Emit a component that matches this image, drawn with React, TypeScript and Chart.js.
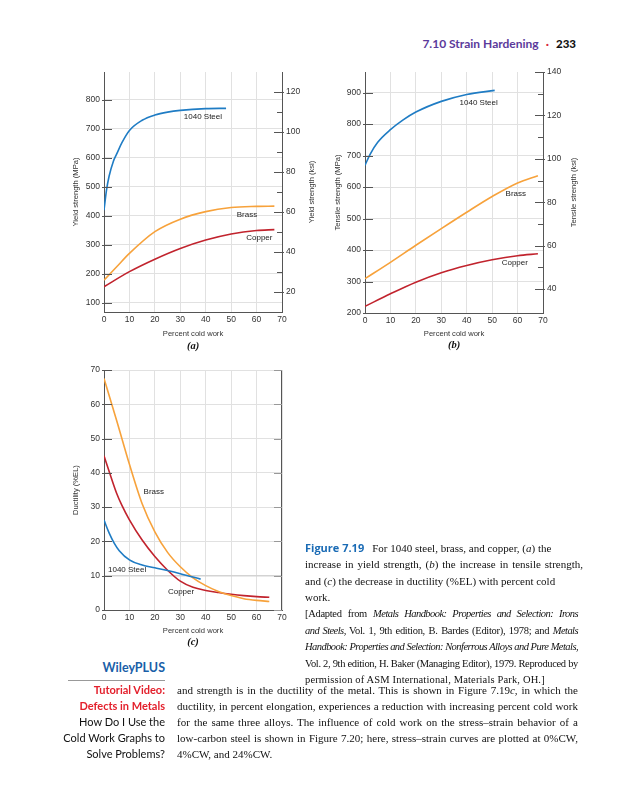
import React, { useEffect, useRef } from 'react';
import { Chart, registerables } from 'chart.js';

Chart.register(...registerables);

// ---------- data ----------
const KSI_TO_MPA = 6.894757;

const coldWorkTicks = [0, 10, 20, 30, 40, 50, 60, 70];

// (a) yield strength
const yieldMpaTicks = [100, 200, 300, 400, 500, 600, 700, 800];
const yieldKsiTicks = [20, 40, 60, 80, 100, 120];
const yieldKsiMinor = [30, 50, 70, 90, 110];
const yieldSteelCW = [0, 1, 2, 3.7, 5, 7, 10, 15, 20, 25, 30, 40, 48];
const yieldSteel = [420, 490, 537, 589, 614, 652, 695, 730, 748, 758, 764, 770, 771];
const yieldBrassCW = [0, 5, 10, 20, 30, 40, 50, 60, 67];
const yieldBrass = [179, 225, 271, 346, 389, 415, 429, 433, 434];
const yieldCopperCW = [0, 10, 20, 30, 40, 50, 60, 67];
const yieldCopper = [156, 208, 251, 288, 317, 338, 350, 353];

// (b) tensile strength
const tensileMpaTicks = [200, 300, 400, 500, 600, 700, 800, 900];
const tensileKsiTicks = [40, 60, 80, 100, 120, 140];
const tensileKsiMinor = [50, 70, 90, 110, 130];
const tensileSteelCW = [0, 2, 5, 10, 15, 20, 30, 40, 51];
const tensileSteel = [669, 704, 742, 782, 813, 838, 872, 894, 907];
const tensileBrassCW = [0, 10, 20, 30, 40, 50, 60, 68];
const tensileBrass = [309, 361, 415, 468, 520, 570, 613, 636];
const tensileCopperCW = [0, 10, 20, 30, 40, 50, 60, 68];
const tensileCopper = [221, 261, 298, 328, 351, 369, 382, 388];

// (c) ductility
const ductilityTicks = [0, 10, 20, 30, 40, 50, 60, 70];
const ductBrassCW = [0, 5, 10, 15, 20, 25, 30, 35, 40, 45, 50, 55, 60, 65];
const ductBrass = [67.5, 55.2, 42.5, 31, 22.8, 16.8, 12.6, 9.4, 7.1, 5.4, 4.2, 3.3, 2.8, 2.5];
const ductCopperCW = [0, 2, 5, 7, 10, 15, 20, 25, 30, 35, 40, 45, 50, 55, 60, 65];
const ductCopper = [45, 40.5, 34, 30.6, 26.3, 20.4, 15.6, 11.6, 8.4, 6.6, 5.7, 5.1, 4.6, 4.2, 3.9, 3.7];
const ductSteelCW = [0, 2, 4, 6, 10, 15, 20, 25, 30, 38];
const ductSteel = [26.2, 22.5, 19.5, 17.3, 14.6, 13.1, 12.3, 11.5, 10.6, 9];

// ---------- styles ----------
const STEEL = '#1f7cc4';
const BRASS = '#f7a23b';
const COPPER = '#c1232d';
const AXIS = '#555555';
const GRID = '#e1e1e1';
const TXT = '#333333';
const SANS = '"Liberation Sans", Arial, sans-serif';
const SERIF = '"Liberation Serif", "Times New Roman", serif';

const pts = (xs: number[], ys: number[]) => xs.map((x, i) => ({ x, y: ys[i] }));

const series = (label: string, xs: number[], ys: number[], color: string) => ({
  label,
  data: pts(xs, ys),
  borderColor: color,
  backgroundColor: color,
  borderWidth: 1.6,
  pointRadius: 0,
  fill: false,
  cubicInterpolationMode: 'monotone' as const,
  yAxisID: 'y',
});

const extrasPlugin = {
  id: 'pageExtras',
  afterDraw(chart: any) {
    const o = chart.options.plugins.pageExtras;
    if (!o) return;
    const ctx = chart.ctx as CanvasRenderingContext2D;
    const a = chart.chartArea;
    ctx.save();
    if (o.rightBorder) {
      ctx.strokeStyle = AXIS;
      ctx.lineWidth = 1;
      ctx.beginPath();
      ctx.moveTo(a.right - 0.5, a.top);
      ctx.lineTo(a.right - 0.5, a.bottom);
      ctx.stroke();
    }
    for (const t of o.ticks) {
      const s = chart.scales[t.scale];
      ctx.strokeStyle = t.color || AXIS;
      ctx.lineWidth = 1;
      for (const v of t.values) {
        const p = Math.round(s.getPixelForValue(v)) + 0.5;
        ctx.beginPath();
        if (t.side === 'left') {
          ctx.moveTo(a.left - t.out, p);
          ctx.lineTo(a.left + t.len, p);
        } else {
          ctx.moveTo(a.right + t.out, p);
          ctx.lineTo(a.right - t.len, p);
        }
        ctx.stroke();
      }
    }
    ctx.fillStyle = '#222';
    ctx.font = `8px ${SANS}`;
    ctx.textAlign = 'center';
    ctx.textBaseline = 'middle';
    for (const l of o.labels) {
      const x = chart.scales.x.getPixelForValue(l.x);
      const y = chart.scales.y.getPixelForValue(l.y);
      ctx.fillText(l.text, x, y);
    }
    const cx = (a.left + a.right) / 2;
    const cy = (a.top + a.bottom) / 2;
    ctx.fillStyle = TXT;
    ctx.font = `7.6px ${SANS}`;
    ctx.fillText(o.xTitle, cx, a.bottom + o.off.x);
    const rot = (text: string, x: number) => {
      ctx.save();
      ctx.translate(x, cy);
      ctx.rotate(-Math.PI / 2);
      ctx.fillText(text, 0, 0);
      ctx.restore();
    };
    rot(o.leftTitle, a.left + o.off.left);
    if (o.rightTitle) rot(o.rightTitle, a.right + o.off.right);
    ctx.fillStyle = '#111';
    ctx.font = `bold italic 10.5px ${SERIF}`;
    ctx.fillText(o.panel, cx, a.bottom + o.off.panel);
    ctx.restore();
  },
};

const fixedTicks = (vals: number[]) => (s: any) => {
  s.ticks = vals.map((v) => ({ value: v }));
};

const tickFont = { family: SANS, size: 8.5 };

type PanelSpec = {
  datasets: any[];
  yMin: number;
  yMax: number;
  yTicks: number[];
  y1?: { min: number; max: number; ticks: number[] };
  pad: { top: number; right: number };
  leftW: number;
  rightW: number;
  xH: number;
  gridColor?: (ctx: any) => string;
  gridWidth?: (ctx: any) => number;
  extras: any;
};

function buildConfig(p: PanelSpec): any {
  const scales: any = {
    x: {
      type: 'linear',
      min: 0,
      max: 70,
      afterBuildTicks: fixedTicks(coldWorkTicks),
      afterFit: (s: any) => {
        s.height = p.xH;
      },
      ticks: { font: tickFont, color: TXT, padding: 3, maxRotation: 0, autoSkip: false },
      grid: { color: GRID, lineWidth: 1, drawTicks: false },
      border: { color: AXIS, width: 1 },
    },
    y: {
      type: 'linear',
      position: 'left',
      min: p.yMin,
      max: p.yMax,
      afterBuildTicks: fixedTicks(p.yTicks),
      afterFit: (s: any) => {
        s.width = p.leftW;
      },
      ticks: { font: tickFont, color: TXT, padding: 4, autoSkip: false },
      grid: {
        color: p.gridColor || GRID,
        lineWidth: p.gridWidth || 1,
        drawTicks: false,
      },
      border: { color: AXIS, width: 1 },
    },
  };
  if (p.y1) {
    scales.y1 = {
      type: 'linear',
      position: 'right',
      min: p.y1.min,
      max: p.y1.max,
      afterBuildTicks: fixedTicks(p.y1.ticks),
      afterFit: (s: any) => {
        s.width = p.rightW;
      },
      ticks: { font: tickFont, color: TXT, padding: 4, autoSkip: false },
      grid: { display: false, drawTicks: false },
      border: { color: AXIS, width: 1 },
    };
  }
  return {
    type: 'line',
    data: { datasets: p.datasets },
    options: {
      responsive: false,
      animation: false,
      events: [],
      layout: { padding: { top: p.pad.top, right: p.pad.right, left: 0, bottom: 0 } },
      scales,
      plugins: {
        legend: { display: false },
        tooltip: { enabled: false },
        pageExtras: p.extras,
      },
    },
    plugins: [extrasPlugin],
  };
}

function Panel({ spec, left, top, width, height }: { spec: PanelSpec; left: number; top: number; width: number; height: number }) {
  const ref = useRef<HTMLCanvasElement | null>(null);
  useEffect(() => {
    if (!ref.current) return;
    const chart = new Chart(ref.current, buildConfig(spec));
    return () => chart.destroy();
  }, []);
  return (
    <canvas
      ref={ref}
      width={width}
      height={height}
      style={{ position: 'absolute', left, top, width, height }}
    />
  );
}

const specA: PanelSpec = {
  datasets: [
    series('1040 Steel', yieldSteelCW, yieldSteel, STEEL),
    series('Brass', yieldBrassCW, yieldBrass, BRASS),
    series('Copper', yieldCopperCW, yieldCopper, COPPER),
  ],
  yMin: 10 * KSI_TO_MPA,
  yMax: 130 * KSI_TO_MPA,
  yTicks: yieldMpaTicks,
  y1: { min: 10, max: 130, ticks: yieldKsiTicks },
  pad: { top: 16, right: 0 },
  leftW: 48,
  rightW: 40,
  xH: 44,
  extras: {
    ticks: [
      { scale: 'y', side: 'left', values: yieldMpaTicks, len: 8, out: 2 },
      { scale: 'y1', side: 'right', values: yieldKsiTicks, len: 8, out: 2 },
      { scale: 'y1', side: 'right', values: yieldKsiMinor, len: 5, out: 0 },
    ],
    labels: [
      { text: '1040 Steel', x: 38.9, y: 743 },
      { text: 'Brass', x: 56.2, y: 404 },
      { text: 'Copper', x: 61.1, y: 324 },
    ],
    leftTitle: 'Yield strength (MPa)',
    rightTitle: 'Yield strength (ksi)',
    xTitle: 'Percent cold work',
    panel: '(a)',
    off: { left: -28, right: 30, x: 22, panel: 34 },
  },
};

const specB: PanelSpec = {
  datasets: [
    series('1040 Steel', tensileSteelCW, tensileSteel, STEEL),
    series('Brass', tensileBrassCW, tensileBrass, BRASS),
    series('Copper', tensileCopperCW, tensileCopper, COPPER),
  ],
  yMin: 200,
  yMax: 140 * KSI_TO_MPA,
  yTicks: tensileMpaTicks,
  y1: { min: 200 / KSI_TO_MPA, max: 140, ticks: tensileKsiTicks },
  pad: { top: 16, right: 0 },
  leftW: 43,
  rightW: 41,
  xH: 43,
  extras: {
    ticks: [
      { scale: 'y', side: 'left', values: tensileMpaTicks, len: 8, out: 2 },
      { scale: 'y1', side: 'right', values: tensileKsiTicks, len: 8, out: 2 },
      { scale: 'y1', side: 'right', values: tensileKsiMinor, len: 5, out: 0 },
    ],
    labels: [
      { text: '1040 Steel', x: 44.7, y: 866 },
      { text: 'Brass', x: 59.3, y: 577 },
      { text: 'Copper', x: 58.9, y: 358 },
    ],
    leftTitle: 'Tensile strength (MPa)',
    rightTitle: 'Tensile strength (ksi)',
    xTitle: 'Percent cold work',
    panel: '(b)',
    off: { left: -27, right: 31, x: 21, panel: 32 },
  },
};

const specC: PanelSpec = {
  datasets: [
    series('1040 Steel', ductSteelCW, ductSteel, STEEL),
    series('Brass', ductBrassCW, ductBrass, BRASS),
    series('Copper', ductCopperCW, ductCopper, COPPER),
  ],
  yMin: 0,
  yMax: 70,
  yTicks: ductilityTicks,
  pad: { top: 18, right: 40 },
  leftW: 48,
  rightW: 0,
  xH: 38,
  gridColor: (c: any) => (c.tick && c.tick.value === 10 ? '#d3d3d3' : GRID),
  gridWidth: (c: any) => (c.tick && c.tick.value === 10 ? 1.4 : 1),
  extras: {
    rightBorder: true,
    ticks: [
      { scale: 'y', side: 'left', values: ductilityTicks, len: 8, out: 2 },
      { scale: 'y', side: 'right', values: ductilityTicks, len: 8, out: 0, color: '#999' },
    ],
    labels: [
      { text: 'Brass', x: 19.6, y: 34.4 },
      { text: '1040 Steel', x: 9.1, y: 11.7 },
      { text: 'Copper', x: 30.3, y: 5.3 },
    ],
    leftTitle: 'Ductility (%EL)',
    xTitle: 'Percent cold work',
    panel: '(c)',
    off: { left: -28, x: 21, panel: 32 },
  },
};

const serif: React.CSSProperties = { fontFamily: SERIF };
const just: React.CSSProperties = { textAlign: 'justify', textAlignLast: 'justify' as any, whiteSpace: 'nowrap' };
const it: React.CSSProperties = { fontStyle: 'italic', letterSpacing: '-0.55px' };

export default function App() {
  return (
    <div
      style={{
        position: 'absolute',
        left: 0,
        top: 0,
        width: 638,
        height: 800,
        background: '#ffffff',
        overflow: 'hidden',
        color: '#111',
      }}
    >
      {/* running head */}
      <div
        style={{
          position: 'absolute',
          top: 36,
          right: 62,
          whiteSpace: 'nowrap',
          fontFamily: 'Lato, "Open Sans", sans-serif',
          fontWeight: 700,
          fontSize: 12,
          lineHeight: '16px',
        }}
      >
        <span style={{ color: '#5b3a9b' }}>7.10 Strain Hardening</span>
        <span style={{ color: '#d8283a', margin: '0 7px' }}>·</span>
        <span style={{ color: '#111', fontWeight: 900, fontSize: 11.5 }}>233</span>
      </div>

      <Panel spec={specA} left={56} top={56} width={266} height={300} />
      <Panel spec={specB} left={322} top={56} width={262} height={300} />
      <Panel spec={specC} left={56} top={352} width={266} height={296} />

      {/* caption */}
      <div
        style={{
          position: 'absolute',
          left: 305,
          top: 539.7,
          width: 280,
          fontSize: 11,
          lineHeight: '16.6px',
          ...serif,
        }}
      >
        <div style={{ whiteSpace: 'nowrap' }}>
          <span
            style={{
              fontFamily: '"Open Sans", sans-serif',
              fontWeight: 700,
              color: '#1a6bb5',
              fontSize: 11,
              marginRight: 8,
            }}
          >
            Figure 7.19
          </span>
          For 1040 steel, brass, and copper, (<i>a</i>) the
        </div>
        <div style={{ ...just, width: 278 }}>
          increase in yield strength, (<i>b</i>) the increase in tensile strength,
        </div>
        <div style={{ whiteSpace: 'nowrap' }}>
          and (<i>c</i>) the decrease in ductility (%EL) with percent cold
        </div>
        <div style={{ whiteSpace: 'nowrap' }}>work.</div>
        <div style={{ width: 273, fontSize: 10.5 }}>
          <div style={{ ...just, letterSpacing: '-0.3px' }}>
            [Adapted from <span style={it}>Metals Handbook: Properties and Selection: Irons</span>
          </div>
          <div style={{ ...just, letterSpacing: '-0.3px' }}>
            <span style={it}>and Steels,</span> Vol. 1, 9th edition, B. Bardes (Editor), 1978; and{' '}
            <span style={it}>Metals</span>
          </div>
          <div style={just}>
            <span style={it}>Handbook: Properties and Selection: Nonferrous Alloys and Pure Metals,</span>
          </div>
          <div style={{ ...just, letterSpacing: '-0.34px' }}>
            Vol. 2, 9th edition, H. Baker (Managing Editor), 1979. Reproduced by
          </div>
          <div style={{ whiteSpace: 'nowrap', letterSpacing: '0.15px' }}>
            permission of ASM International, Materials Park, OH.]
          </div>
        </div>
      </div>

      {/* sidebar */}
      <div
        style={{
          position: 'absolute',
          left: 40,
          width: 125,
          top: 659,
          textAlign: 'right',
          fontFamily: 'Lato, "Open Sans", sans-serif',
          whiteSpace: 'nowrap',
        }}
      >
        <div style={{ fontWeight: 700, color: '#1a5fa8', fontSize: 12.5, lineHeight: '18px' }}>WileyPLUS</div>
      </div>
      <div style={{ position: 'absolute', left: 68, top: 680, width: 97, height: 1, background: '#999' }} />
      <div
        style={{
          position: 'absolute',
          left: 20,
          width: 145,
          top: 682,
          textAlign: 'right',
          fontFamily: 'Lato, "Open Sans", sans-serif',
          fontSize: 11,
          lineHeight: '16px',
          whiteSpace: 'nowrap',
        }}
      >
        <div style={{ color: '#e3202c', fontWeight: 700 }}>Tutorial Video:</div>
        <div style={{ color: '#e3202c', fontWeight: 700 }}>Defects in Metals</div>
        <div>How Do I Use the</div>
        <div>Cold Work Graphs to</div>
        <div>Solve Problems?</div>
      </div>

      {/* body text */}
      <div
        style={{
          position: 'absolute',
          left: 177,
          top: 682,
          width: 401,
          fontSize: 11,
          lineHeight: '16px',
          ...serif,
        }}
      >
        <div style={just}>
          and strength is in the ductility of the metal. This is shown in Figure 7.19<i>c</i>, in which the
        </div>
        <div style={just}>
          ductility, in percent elongation, experiences a reduction with increasing percent cold work
        </div>
        <div style={just}>
          for the same three alloys. The influence of cold work on the stress–strain behavior of a
        </div>
        <div style={just}>
          low-carbon steel is shown in Figure 7.20; here, stress–strain curves are plotted at 0%CW,
        </div>
        <div style={{ whiteSpace: 'nowrap' }}>4%CW, and 24%CW.</div>
      </div>
    </div>
  );
}
